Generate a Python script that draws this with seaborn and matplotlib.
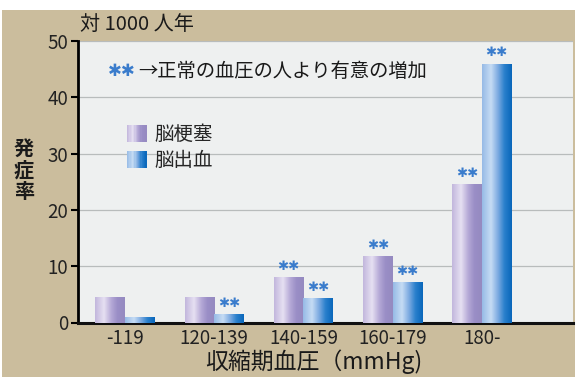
import numpy as np
import pandas as pd
import matplotlib
matplotlib.use("Agg")
import matplotlib.pyplot as plt
import seaborn as sns
from matplotlib.colors import LinearSegmentedColormap
from matplotlib.patches import Rectangle
from matplotlib.legend_handler import HandlerBase

# ---- data ----
categories = ["-119", "120-139", "140-159", "160-179", "180-"]
series_names = ["脳梗塞", "脳出血"]
infarction = [4.5, 4.5, 8.1, 11.8, 24.6]
hemorrhage = [1.0, 1.5, 4.3, 7.2, 46.0]
sig_infarction = [False, False, True, True, True]
sig_hemorrhage = [False, True, True, True, True]
yticks = [0, 10, 20, 30, 40, 50]

df = pd.DataFrame({
    "cat": categories * 2,
    "type": [series_names[0]] * 5 + [series_names[1]] * 5,
    "val": infarction + hemorrhage,
})

sns.set_theme(style="white")
plt.rcParams["font.family"] = ["Noto Sans CJK JP", "DejaVu Sans"]

W, H = 581, 383
fig = plt.figure(figsize=(W / 100, H / 100), dpi=100)
fig.patch.set_facecolor("white")
fig.patches.append(Rectangle((2 / W, 1 - 377 / H), (575 - 2) / W, (377 - 10) / H,
                             transform=fig.transFigure, facecolor="#cbbd9d",
                             edgecolor="none", zorder=-5))

L, R, T, B = 78, 573, 41, 322.5
ax = fig.add_axes([L / W, 1 - B / H, (R - L) / W, (B - T) / H])
ax.set_zorder(2)
ax.set_facecolor("#eef0f0")

cm_purple = LinearSegmentedColormap.from_list("p", [
    (0.0, "#c2b6dc"), (0.3, "#e6e0f2"), (0.55, "#b4a8d6"), (0.75, "#9a8ec6"), (1.0, "#958ac0")])
cm_blue = LinearSegmentedColormap.from_list("b", [
    (0.0, "#96bae6"), (0.3, "#c6dcf4"), (0.55, "#78a8e0"), (0.75, "#2a80cc"), (1.0, "#0866ba")])

sns.barplot(data=df, x="cat", y="val", hue="type", order=categories,
            hue_order=series_names, palette=["#b4a8d6", "#4a90d6"],
            width=0.66, gap=0, ax=ax, legend=False, zorder=3, edgecolor="none",
            linewidth=0, err_kws={"linewidth": 0})

grad = np.linspace(0, 1, 256).reshape(1, -1)
bars = [p for p in ax.patches if isinstance(p, Rectangle)]
nb = len(categories)
for i, p in enumerate(bars):
    cmap = cm_purple if i < nb else cm_blue
    x0, w, h = p.get_x(), p.get_width(), p.get_height()
    if h <= 0:
        continue
    im = ax.imshow(grad, extent=[x0, x0 + w, 0, h], aspect="auto", cmap=cmap,
                   zorder=3.1, interpolation="bilinear")
    im.set_clip_path(p)
    sig = sig_infarction if i < nb else sig_hemorrhage
    if sig[i % nb]:
        ax.annotate("✱✱", (x0 + w / 2, h), xytext=(0, 3), textcoords="offset points",
                    ha="center", va="bottom", fontsize=9.5, color="#3a7ccc",
                    family="DejaVu Sans", zorder=5)

ax.set_xlim(-0.525, 4.02 + 1.0)
ax.set_ylim(0, 50)
ax.set_yticks(yticks)
ax.yaxis.grid(True, color="#b8bcbc", linewidth=0.9, zorder=1)
ax.set_axisbelow(True)
for s in ["top", "right"]:
    ax.spines[s].set_visible(False)
ax.spines["left"].set_color("black")
ax.spines["left"].set_linewidth(2)
ax.spines["bottom"].set_color("#111111")
ax.spines["bottom"].set_linewidth(2.2)
ax.tick_params(axis="y", length=5, width=1.5, color="black", labelsize=13.5,
               labelcolor="#222222", pad=2, left=True)
ax.tick_params(axis="x", length=0, labelsize=13.5, labelcolor="#222222", pad=4)
ax.set_xlabel("")
ax.set_ylabel("")


class GradHandler(HandlerBase):
    def __init__(self, cmap):
        super().__init__()
        self.cmap = cmap

    def create_artists(self, legend, orig_handle, xdescent, ydescent, width,
                       height, fontsize, trans):
        n = 16
        arts = []
        for k in range(n):
            arts.append(Rectangle((-xdescent + width * k / n, -ydescent),
                                  width / n * 1.05, height,
                                  facecolor=self.cmap((k + 0.5) / n),
                                  edgecolor="none", transform=trans))
        return arts


h1 = Rectangle((0, 0), 1, 1)
h2 = Rectangle((0, 0), 1, 1)
ax.legend([h1, h2], series_names, loc="upper left",
          bbox_to_anchor=((127 - L) / (R - L), (B - 124) / (B - T)),
          frameon=False, fontsize=14, handlelength=1.0, handleheight=0.95,
          handletextpad=0.4, labelspacing=0.25, borderpad=0, borderaxespad=0,
          handler_map={h1: GradHandler(cm_purple), h2: GradHandler(cm_blue)})

# annotation
ax.text((108 - L) / (R - L), (B - 71) / (B - T), "✱✱", transform=ax.transAxes,
        ha="left", va="center", fontsize=12, color="#3a7ccc", family="DejaVu Sans")
ax.text((138 - L) / (R - L), (B - 71) / (B - T), "→正常の血圧の人より有意の増加",
        transform=ax.transAxes, ha="left", va="center", fontsize=13.9, color="#1a1a1a")

fig.text(80 / W, 1 - 24 / H, "対 1000 人年", ha="left", va="center",
         fontsize=14.5, color="#1a1a1a")
fig.text(24 / W, 1 - 170 / H, "発\n症\n率", ha="center", va="center",
         fontsize=14.5, color="#1a1a1a", weight="bold", linespacing=1.05)
fig.text(314 / W, 1 - 362 / H, "収縮期血圧（mmHg)", ha="center", va="center",
         fontsize=16.5, color="#1a1a1a")

fig.savefig("out.png", dpi=100, facecolor=fig.get_facecolor())
